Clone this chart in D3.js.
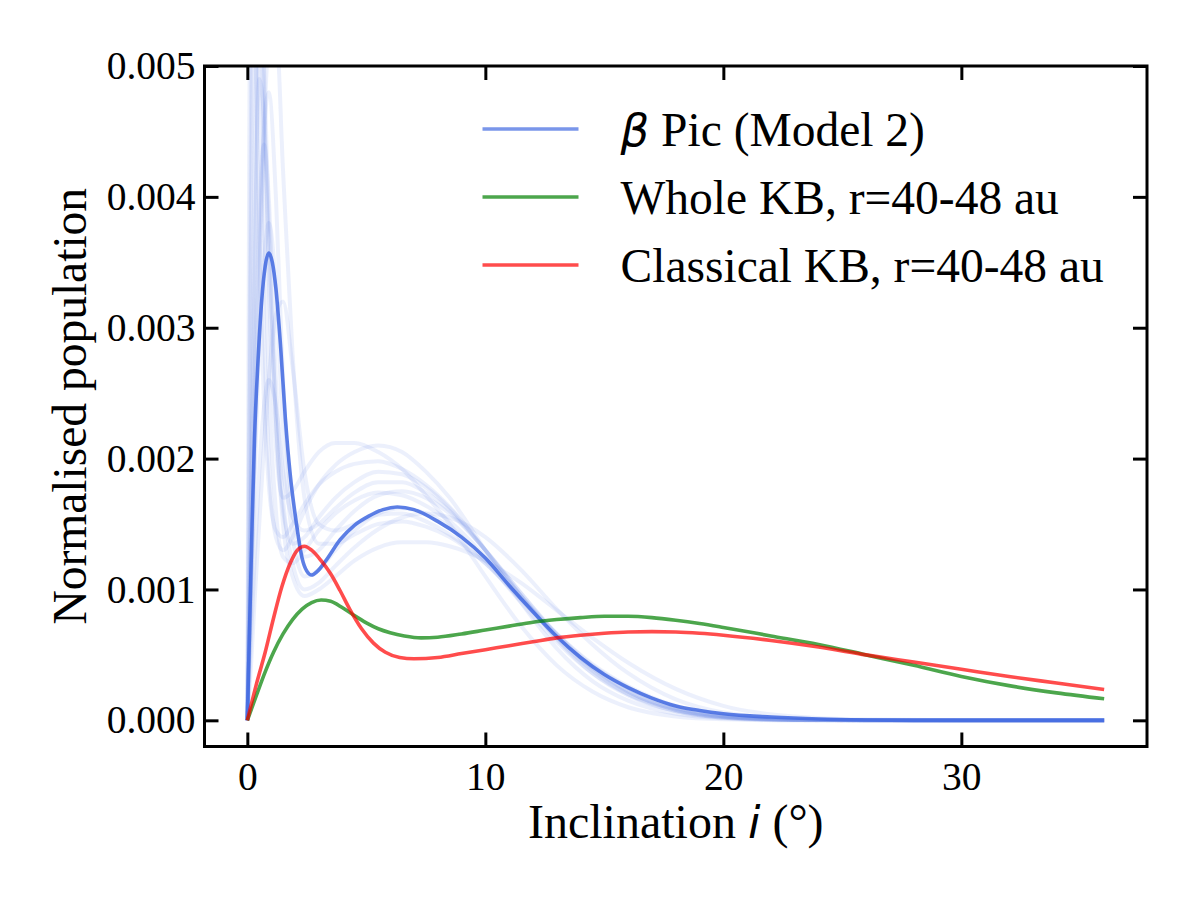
<!DOCTYPE html>
<html>
<head>
<meta charset="utf-8">
<script src="https://cdn.jsdelivr.net/npm/d3@7"></script>
<style>
  body { margin: 0; background: #fff; }
  svg { display: block; }
  .tick text { font-family: "Liberation Serif", "Times New Roman", serif; }
</style>
</head>
<body>
<script>
// inclination grid of the main blue curve (deg) and values (x 1e-3)
const incBeta = [0, 0.1, 0.2, 0.3, 0.45, 0.6, 0.75, 0.9, 1.05, 1.2, 1.4, 1.6, 1.8, 2.05, 2.3, 2.5, 2.7, 2.95, 3.3, 3.9, 4.5, 5.1, 5.7, 6.3, 7.0, 8, 9, 10, 11, 12, 13, 14, 15, 16, 17, 18, 19, 20, 22, 24, 26, 28, 36];
const popBeta = [0, 0.75, 1.5, 2.15, 2.75, 3.2, 3.47, 3.57, 3.5, 3.3, 2.85, 2.3, 1.88, 1.52, 1.24, 1.14, 1.11, 1.14, 1.22, 1.38, 1.49, 1.56, 1.61, 1.63, 1.61, 1.52, 1.40, 1.24, 1.03, 0.83, 0.64, 0.48, 0.35, 0.25, 0.17, 0.11, 0.075, 0.05, 0.025, 0.01, 0.003, 0, 0];

const incClassical = [0, 0.4, 0.75, 1.1, 1.45, 1.8, 2.1, 2.4, 2.7, 3.1, 3.5, 3.9, 4.3, 4.8, 5.3, 5.8, 6.4, 7.0, 8, 9, 10, 11, 12, 13, 14, 15, 16, 17, 18, 19, 20, 22, 24, 26, 28, 30, 32, 34, 36];
const popClassical = [0, 0.29, 0.52, 0.78, 1.02, 1.2, 1.3, 1.33, 1.3, 1.22, 1.12, 0.99, 0.85, 0.70, 0.59, 0.52, 0.48, 0.47, 0.48, 0.51, 0.54, 0.57, 0.60, 0.63, 0.65, 0.665, 0.675, 0.678, 0.675, 0.665, 0.65, 0.61, 0.56, 0.5, 0.445, 0.39, 0.335, 0.285, 0.235];

const incWhole = [0, 0.4, 0.75, 1.1, 1.5, 1.9, 2.3, 2.7, 3.1, 3.5, 4.0, 4.5, 5.0, 5.5, 6.0, 6.6, 7.3, 8, 9, 10, 11, 12, 13, 14, 15, 16, 17, 18, 19, 20, 22, 24, 26, 28, 30, 32, 34, 36];
const popWhole = [0, 0.2, 0.37, 0.52, 0.66, 0.77, 0.85, 0.9, 0.92, 0.91, 0.86, 0.80, 0.745, 0.70, 0.67, 0.645, 0.63, 0.635, 0.66, 0.69, 0.72, 0.75, 0.77, 0.785, 0.795, 0.795, 0.785, 0.765, 0.74, 0.71, 0.645, 0.58, 0.5, 0.42, 0.335, 0.265, 0.21, 0.165];

// posterior draws for beta Pic (x 1e-3)
const incDraws = [0, 0.15, 0.3, 0.5, 0.7, 0.9, 1.2, 1.5, 1.9, 2.4, 3, 3.7, 4.5, 5.5, 6.5, 7.5, 8.5, 10, 11.5, 13, 14.5, 16, 18, 20, 23, 26, 30, 36];
const draws = [
  [0, 3.5, 6.0, 5.0, 3.0, 2.0, 1.4, 1.3, 1.4, 1.6, 1.8, 1.95, 2.05, 2.1, 2.05, 1.9, 1.7, 1.3, 0.9, 0.55, 0.3, 0.15, 0.05, 0.015, 0, 0, 0, 0],
  [0, 1.5, 3.2, 5.5, 5.0, 3.8, 2.3, 1.6, 1.35, 1.4, 1.55, 1.7, 1.82, 1.9, 1.88, 1.78, 1.62, 1.3, 0.95, 0.62, 0.36, 0.19, 0.07, 0.02, 0.003, 0, 0, 0],
  [0, 0.9, 1.8, 2.9, 3.5, 3.8, 3.3, 2.2, 1.4, 1.1, 1.15, 1.3, 1.45, 1.58, 1.62, 1.58, 1.48, 1.22, 0.9, 0.6, 0.36, 0.2, 0.08, 0.03, 0.005, 0, 0, 0],
  [0, 1.0, 2.0, 3.4, 4.5, 5.2, 5.3, 4.2, 2.8, 1.7, 1.35, 1.35, 1.42, 1.5, 1.52, 1.48, 1.4, 1.2, 0.93, 0.66, 0.43, 0.26, 0.11, 0.04, 0.008, 0, 0, 0],
  [0, 4.5, 7.5, 6.5, 4.0, 2.6, 1.6, 1.25, 1.2, 1.3, 1.45, 1.58, 1.68, 1.74, 1.72, 1.64, 1.52, 1.25, 0.95, 0.66, 0.42, 0.25, 0.1, 0.035, 0.005, 0, 0, 0],
  [0, 0.6, 1.2, 1.9, 2.4, 2.6, 2.4, 1.9, 1.55, 1.45, 1.5, 1.62, 1.74, 1.82, 1.82, 1.74, 1.6, 1.3, 0.97, 0.65, 0.4, 0.22, 0.08, 0.025, 0.003, 0, 0, 0],
  [0, 1.2, 2.6, 3.9, 4.4, 4.0, 2.6, 1.7, 1.2, 1.0, 1.05, 1.18, 1.32, 1.46, 1.55, 1.58, 1.55, 1.4, 1.15, 0.85, 0.58, 0.36, 0.16, 0.06, 0.012, 0.002, 0, 0],
  [0, 2.0, 4.2, 5.8, 4.8, 3.4, 2.1, 1.7, 1.75, 1.9, 2.05, 2.12, 2.12, 2.05, 1.92, 1.72, 1.5, 1.1, 0.72, 0.42, 0.22, 0.1, 0.03, 0.008, 0, 0, 0, 0],
  [0, 0.4, 0.9, 1.5, 2.1, 2.6, 3.1, 3.2, 2.7, 1.9, 1.5, 1.45, 1.5, 1.57, 1.58, 1.52, 1.42, 1.2, 0.92, 0.64, 0.4, 0.23, 0.09, 0.03, 0.004, 0, 0, 0],
  [0, 1.6, 3.4, 4.9, 4.6, 3.6, 2.3, 1.5, 1.1, 0.95, 1.0, 1.1, 1.22, 1.32, 1.36, 1.36, 1.33, 1.22, 1.05, 0.84, 0.63, 0.44, 0.24, 0.11, 0.03, 0.006, 0, 0],
  [0, 6.0, 5.5, 3.6, 2.4, 1.8, 1.45, 1.4, 1.5, 1.65, 1.8, 1.9, 1.96, 1.98, 1.92, 1.8, 1.63, 1.3, 0.95, 0.63, 0.38, 0.2, 0.07, 0.02, 0.003, 0, 0, 0],
  [0, 1.0, 2.2, 3.6, 4.5, 4.8, 4.0, 2.6, 1.6, 1.25, 1.3, 1.45, 1.6, 1.72, 1.75, 1.7, 1.58, 1.3, 0.97, 0.66, 0.4, 0.22, 0.08, 0.025, 0.003, 0, 0, 0]
];

const xTicks = [0, 10, 20, 30];
const yTicks = [0, 0.001, 0.002, 0.003, 0.004, 0.005];
const legendLabels = ['Pic (Model 2)', 'Whole KB, r=40-48 au', 'Classical KB, r=40-48 au'];
const legendColors = ['royalblue', 'green', 'red'];

const width = 1200;
const height = 900;
const margin = {left: 204.5, right: 53, top: 66, bottom: 153.5};
const iw = width - margin.left - margin.right;
const ih = height - margin.top - margin.bottom;
const serif = '"Liberation Serif", "Times New Roman", serif';

const x = d3.scaleLinear().domain([-1.8, 37.8]).range([0, iw]);
const y = d3.scaleLinear().domain([-0.0002, 0.005]).range([ih, 0]);

const svg = d3.select('body').append('svg')
    .attr('width', width)
    .attr('height', height);

const g = svg.append('g')
    .attr('transform', `translate(${margin.left}, ${margin.top})`);

g.append('clipPath').attr('id', 'plot-clip')
  .append('rect').attr('width', iw).attr('height', ih);

const toPts = (xs, ys) => xs.map((v, i) => [v, ys[i] / 1000]);
const line = d3.line()
    .x(d => x(d[0]))
    .y(d => y(d[1]))
    .curve(d3.curveMonotoneX);

const plot = g.append('g').attr('clip-path', 'url(#plot-clip)');

plot.selectAll('.draw')
  .data(draws)
  .enter()
  .append('path')
    .attr('class', 'draw')
    .attr('d', d => line(toPts(incDraws, d)))
    .attr('fill', 'none')
    .attr('stroke', 'royalblue')
    .attr('stroke-width', 4)
    .attr('stroke-opacity', 0.1);

plot.append('path')
    .attr('d', line(toPts(incBeta, popBeta)))
    .attr('fill', 'none')
    .attr('stroke', 'royalblue')
    .attr('stroke-width', 3.6)
    .attr('stroke-opacity', 0.85);

plot.append('path')
    .attr('d', line(toPts(incWhole, popWhole)))
    .attr('fill', 'none')
    .attr('stroke', 'green')
    .attr('stroke-width', 3.6)
    .attr('stroke-opacity', 0.7);

plot.append('path')
    .attr('d', line(toPts(incClassical, popClassical)))
    .attr('fill', 'none')
    .attr('stroke', 'red')
    .attr('stroke-width', 3.6)
    .attr('stroke-opacity', 0.7);

// axes, ticks pointing inwards on all four sides
const tick = 14;
g.append('g')
    .attr('transform', `translate(0, ${ih})`)
    .call(d3.axisBottom(x).tickValues(xTicks).tickSize(-tick).tickPadding(15).tickFormat(d3.format('d')));
g.append('g')
    .call(d3.axisTop(x).tickValues(xTicks).tickSize(-tick).tickFormat(''));
g.append('g')
    .call(d3.axisLeft(y).tickValues(yTicks).tickSize(-tick).tickPadding(9).tickFormat(d3.format('.3f')));
g.append('g')
    .attr('transform', `translate(${iw}, 0)`)
    .call(d3.axisRight(y).tickValues(yTicks).tickSize(-tick).tickFormat(''));

g.selectAll('.domain').remove();
g.selectAll('.tick line').attr('stroke', '#000').attr('stroke-width', 3);
g.selectAll('.tick text').attr('font-size', 39.5).attr('fill', '#000');

g.append('rect')
    .attr('width', iw)
    .attr('height', ih)
    .attr('fill', 'none')
    .attr('stroke', '#000')
    .attr('stroke-width', 3);

// axis labels
const xl = svg.append('text')
    .attr('x', margin.left + iw / 2)
    .attr('y', 838)
    .attr('text-anchor', 'middle')
    .attr('font-family', serif)
    .attr('font-size', 48);
xl.append('tspan').text('Inclination ');
xl.append('tspan').attr('font-family', '"DejaVu Sans"').attr('font-style', 'italic').attr('font-size', 45).text('i');
xl.append('tspan').text(' (°)');

svg.append('text')
    .attr('transform', `translate(86, ${margin.top + ih / 2}) rotate(-90)`)
    .attr('text-anchor', 'middle')
    .attr('font-family', serif)
    .attr('font-size', 47.5)
    .text('Normalised population');

// legend
const legend = g.append('g').attr('transform', 'translate(278, 63)');
legendLabels.forEach((lab, i) => {
  const row = legend.append('g').attr('transform', `translate(0, ${i * 68})`);
  row.append('line')
      .attr('x1', 0).attr('x2', 96)
      .attr('stroke', legendColors[i])
      .attr('stroke-opacity', 0.7)
      .attr('stroke-width', 3.6);
  const t = row.append('text')
      .attr('x', 138)
      .attr('dy', '0.35em')
      .attr('font-family', serif)
      .attr('font-size', 47.5);
  if (i === 0) {
    t.append('tspan').attr('font-family', '"DejaVu Sans"').attr('font-style', 'italic').attr('font-size', 45).text('β');
    t.append('tspan').text(' ' + lab);
  } else {
    t.text(lab);
  }
});
</script>
</body>
</html>
